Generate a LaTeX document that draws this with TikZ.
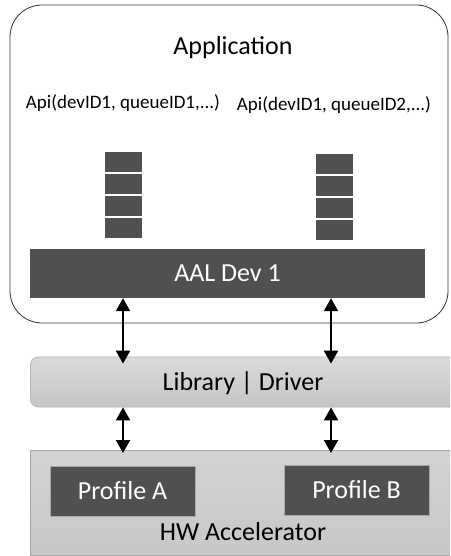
\documentclass[tikz,border=0pt]{standalone}
\usepackage{fontspec}
\setmainfont{Carlito}
\usetikzlibrary{arrows.meta}
\definecolor{darkbox}{HTML}{505050}
\definecolor{libtop}{HTML}{DADADA}
\definecolor{libbot}{HTML}{C5C5C5}
\definecolor{libline}{HTML}{B5B5B5}
\definecolor{hwtop}{HTML}{D2D2D2}
\definecolor{hwbot}{HTML}{C8C8C8}
\definecolor{hwline}{HTML}{A8A8A8}
\tikzset{
  darkblock/.style={fill=darkbox, draw=none, inner sep=0pt, text=white},
  qslot/.style={darkblock, minimum width=37pt, minimum height=20pt},
  biarrow/.style={{Triangle[width=14pt,length=13pt]}-{Triangle[width=14pt,length=13pt]}, line width=2.2pt, black},
  bigtext/.style={font=\fontsize{26pt}{30pt}\selectfont},
  apitext/.style={font=\fontsize{19pt}{22pt}\selectfont, inner sep=0pt},
}
\begin{document}
\begin{tikzpicture}[x=1pt,y=-1pt]
  \useasboundingbox (0,0) rectangle (450,556);
  \clip (0,0) rectangle (450,556);
  \fill[white] (0,0) rectangle (450,556);

  % application frame
  \node[draw=black!80, line width=0.8pt, rounded corners=32pt, minimum width=438pt, minimum height=318pt, inner sep=0pt] (app) at (229,164) {};
  \node[bigtext] (apptitle) at (233,48) {Application};
  \node[apitext] (api1) at (123,103) {Api(devID1, queueID1,...)};
  \node[apitext] (api2) at (334,105) {Api(devID1, queueID2,...)};

  % queues
  \foreach \i in {0,1,2,3} {
    \node[qslot] (qa\i) at (123.5,{162+22*\i}) {};
    \node[qslot] (qb\i) at (334.5,{164+22*\i}) {};
  }

  % device abstraction layer
  \node[darkblock, bigtext, minimum width=395pt, minimum height=49pt] (aal) at (227.5,273.5) {AAL Dev 1};

  % library / driver layer
  \node[draw=libline, line width=0.8pt, top color=libtop, bottom color=libbot, rounded corners=8pt,
        minimum width=460pt, minimum height=50pt, inner sep=0pt, anchor=west] (lib) at (30,382) {};
  \node[bigtext] (libtext) at (243,383) {Library | Driver};

  % hardware accelerator
  \node[draw=hwline, line width=0.8pt, top color=hwtop, bottom color=hwbot,
        minimum width=460pt, minimum height=105pt, inner sep=0pt, anchor=north west] (hw) at (30,450) {};
  \node[darkblock, bigtext, minimum width=145pt, minimum height=50pt, draw=hwline, line width=0.5pt] (pa) at (122.5,491) {Profile A};
  \node[darkblock, bigtext, minimum width=145pt, minimum height=50pt, draw=hwline, line width=0.5pt] (pb) at (356.5,490) {Profile B};
  \node[bigtext] (hwtext) at (243,532) {HW Accelerator};

  % connectors
  \coordinate (ca) at (123,0);
  \coordinate (cb) at (331,0);
  \draw[biarrow, shorten >=-7pt] (aal.south -| ca) -- (lib.north -| ca);
  \draw[biarrow, shorten >=-7pt] (aal.south -| cb) -- (lib.north -| cb);
  \draw[biarrow, shorten >=-3pt] (lib.south -| ca) -- (hw.north -| ca);
  \draw[biarrow, shorten >=-3pt] (lib.south -| cb) -- (hw.north -| cb);
\end{tikzpicture}
\end{document}
